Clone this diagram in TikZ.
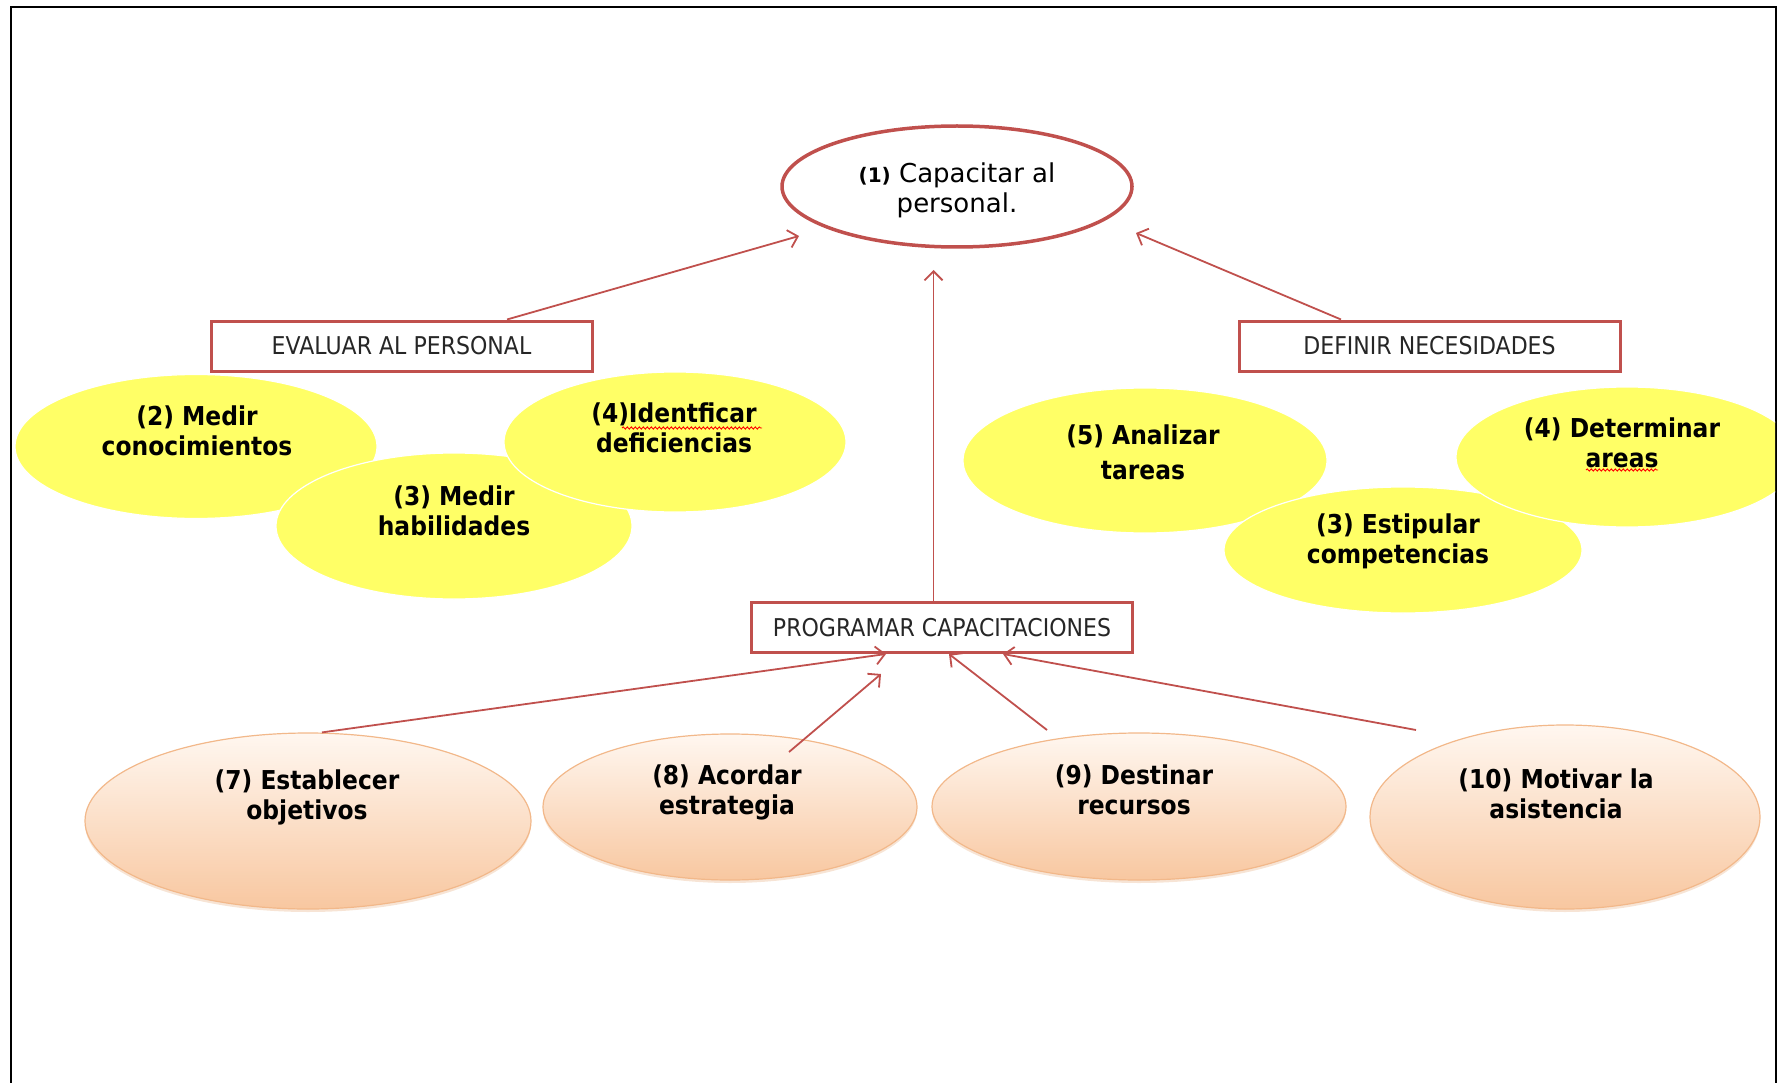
\documentclass[tikz,border=0pt]{standalone}
\usepackage{fontspec}
\newfontfamily\tahfont{DejaVu Sans}[FakeStretch=0.9]
\newfontfamily\verfont{DejaVu Sans}
\usetikzlibrary{shapes.geometric,arrows.meta,calc,shadows,decorations.pathmorphing}

\definecolor{frameRed}{HTML}{C0504D}
\definecolor{hiYellow}{HTML}{FFFF66}
\definecolor{peachTop}{HTML}{FFF7F0}
\definecolor{peachBot}{HTML}{F8C7A0}
\definecolor{peachLine}{HTML}{F2B88A}

\tikzset{
  yellowoval/.style={ellipse, fill=hiYellow, draw=white, line width=1.2pt, inner sep=0pt},
  peachoval/.style={ellipse, top color=peachTop, bottom color=peachBot, draw=peachLine,
    line width=1.2pt, inner sep=0pt,
    drop shadow={shadow xshift=0pt, shadow yshift=-3pt, opacity=0.3, fill=peachLine!70!brown}},
  ovaltext/.style={align=center, text=black, inner sep=0pt,
    font=\tahfont\bfseries\fontsize{26}{30}\selectfont},
  titlebox/.style={draw=frameRed, line width=3pt, minimum width=381pt, minimum height=50pt,
    inner sep=0pt, text=black!85, font=\tahfont\fontsize{24.5}{28}\selectfont},
  arr/.style={draw=frameRed, line width=1.8pt, -{Straight Barb[length=9pt,width=18pt,line width=1.8pt]}},
  spell/.style={draw=red, line width=0.9pt, decorate,
    decoration={snake, amplitude=1.1pt, segment length=4pt}}
}

\begin{document}
\begin{tikzpicture}[x=1pt, y=-1pt]
  \useasboundingbox (0,0) rectangle (1785,1083);

  % page frame
  \draw[black, line width=2.2pt] (11,1083) -- (11,7) -- (1776,7) -- (1776,1083);

  % top goal
  \node[ellipse, draw=frameRed, line width=3.5pt, minimum width=350pt, minimum height=121pt,
        inner sep=0pt] (cap) at (957,186.5) {};
  \node[align=center, inner sep=0pt, font=\verfont\fontsize{26}{30}\selectfont]
        (tcap) at (957,190) {{\bfseries\fontsize{20}{30}\selectfont(1)} Capacitar al\\personal.};

  % three group titles
  \node[titlebox] (ev)   at (401.5,346) {EVALUAR AL PERSONAL};
  \node[titlebox] (def)  at (1429.5,346) {DEFINIR NECESIDADES};
  \node[titlebox] (prog) at (942,627.5) {PROGRAMAR CAPACITACIONES};

  % left cluster
  \node[yellowoval, minimum width=362pt, minimum height=144pt] (e2) at (196,446.5) {};
  \node[yellowoval, minimum width=356pt, minimum height=146pt] (e3) at (454,526) {};
  \node[yellowoval, minimum width=342pt, minimum height=140pt] (e4) at (675,442) {};
  \node[ovaltext] (t2) at (197,431) {(2) Medir\\conocimientos};
  \node[ovaltext] (t3) at (454,511) {(3) Medir\\habilidades};
  \node[ovaltext] (t4) at (674,428) {(4)Identficar\\deficiencias};

  % right cluster
  \node[yellowoval, minimum width=364pt, minimum height=145pt] (e5) at (1145,460.5) {};
  \node[yellowoval, minimum width=358pt, minimum height=126pt] (e6) at (1403,550) {};
  \begin{scope}
    \clip (0,0) rectangle (1775,1083);
    \node[yellowoval, minimum width=342pt, minimum height=140pt] (e4b) at (1627,457) {};
  \end{scope}
  \node[ovaltext] (t5) at (1143,452) {(5) Analizar\\[5pt]tareas};
  \node[ovaltext] (t6) at (1398,541) {(3) Estipular\\competencias};
  \node[ovaltext] (t4b) at (1622,443) {(4) Determinar\\areas};

  % spelling marks
  \draw[spell] (622,428) -- (762,428);
  \draw[spell] (1586,470) -- (1658,470);

  % bottom row
  \node[peachoval, minimum width=446pt, minimum height=176pt] (e7)  at (308,821) {};
  \node[peachoval, minimum width=374pt, minimum height=146pt] (e8)  at (730,807) {};
  \node[peachoval, minimum width=414pt, minimum height=147pt] (e9)  at (1139,806.5) {};
  \node[peachoval, minimum width=390pt, minimum height=184pt] (e10) at (1565,817) {};
  \node[ovaltext] (t7)  at (307,797)   {(7) Establecer\\objetivos};
  \node[ovaltext] (t8)  at (727,792.5) {(8) Acordar\\estrategia};
  \node[ovaltext] (t9)  at (1134,789.5) {(9) Destinar\\recursos};
  \node[ovaltext] (t10) at (1556,794)  {(10) Motivar la\\asistencia};

  % free ends of the connectors
  \coordinate (capL) at (799,236);
  \coordinate (capR) at (1136,233);
  \coordinate (capB) at (933.5,270);
  \coordinate (s8) at (789,752);
  \coordinate (p8) at (881,674);
  \coordinate (s9) at (1047,730);
  \coordinate (s10) at (1416,730);

  % connectors
  \draw[arr] ($(ev.north)+(105.5,0)$) -- (capL);
  \draw[arr] ($(def.north)+(-88.5,0)$) -- (capR);
  \draw[arr] ($(prog.north)+(-8.5,0)$) -- (capB);
  \draw[arr] ($(e7.north)+(14,0)$) -- ($(prog.south)+(-56,0)$);
  \draw[arr] (s8) -- (p8);
  \draw[arr] (s9) -- ($(prog.south)+(7,0)$);
  \draw[arr] (s10) -- ($(prog.south)+(61,0)$);
\end{tikzpicture}
\end{document}
